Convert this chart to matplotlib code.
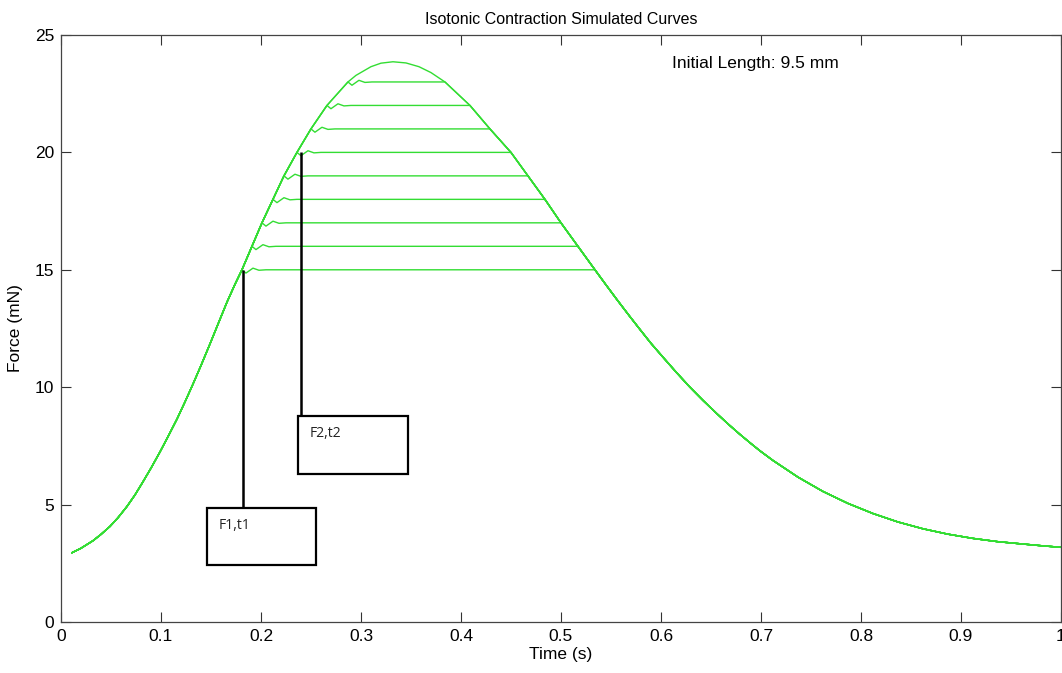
import numpy as np
import matplotlib
matplotlib.use("Agg")
import matplotlib.pyplot as plt
from matplotlib.patches import Rectangle

# Control (twitch) curve
t_main = [0.011, 0.020, 0.032, 0.040, 0.049, 0.057, 0.066, 0.074, 0.082, 0.090,
          0.099, 0.107, 0.116, 0.124, 0.132, 0.140, 0.149, 0.157, 0.166, 0.174,
          0.181, 0.191, 0.201, 0.212, 0.223, 0.236, 0.250, 0.266, 0.287, 0.295,
          0.310, 0.320, 0.332, 0.345, 0.358, 0.370, 0.384, 0.409, 0.429, 0.450,
          0.467, 0.484, 0.500, 0.517, 0.534, 0.545, 0.556, 0.568, 0.579, 0.590,
          0.602, 0.615, 0.629, 0.642, 0.656, 0.668, 0.679, 0.690, 0.699, 0.712,
          0.737, 0.762, 0.787, 0.812, 0.837, 0.862, 0.887, 0.912, 0.937, 0.962,
          0.980, 1.0]
F_main = [2.95, 3.14, 3.46, 3.73, 4.07, 4.44, 4.92, 5.41, 5.97, 6.55,
          7.24, 7.89, 8.64, 9.37, 10.13, 10.92, 11.84, 12.68, 13.62, 14.38,
          15.0, 16.0, 17.0, 18.0, 19.0, 20.0, 21.0, 22.0, 23.0, 23.28,
          23.65, 23.80, 23.86, 23.81, 23.65, 23.40, 23.0, 22.0, 21.0, 20.0,
          19.0, 18.0, 17.0, 16.0, 15.0, 14.36, 13.73, 13.06, 12.46, 11.87,
          11.28, 10.65, 10.00, 9.44, 8.87, 8.40, 7.99, 7.60, 7.29, 6.88,
          6.17, 5.56, 5.05, 4.62, 4.26, 3.97, 3.74, 3.56, 3.42, 3.32,
          3.25, 3.18]

# Isotonic load levels and where the plateau starts / ends
levels = [15, 16, 17, 18, 19, 20, 21, 22, 23]
t_start = [0.181, 0.191, 0.201, 0.212, 0.223, 0.236, 0.250, 0.266, 0.287]
t_end = [0.534, 0.517, 0.500, 0.484, 0.467, 0.450, 0.429, 0.409, 0.384]

# small oscillation at the onset of each plateau
wig_dt = [0.0, 0.004, 0.011, 0.017, 0.024]
wig_dF = [0.0, -0.14, 0.07, -0.02, 0.0]

# annotations
ann_labels = ["F1,t1", "F2,t2"]
ann_t = [0.182, 0.240]
ann_F = [15.0, 20.0]
box_x = [0.146, 0.237]
box_y = [2.43, 6.30]
box_w = [0.109, 0.110]
box_h = [2.43, 2.47]

green = "#33dd33"

fig = plt.figure(figsize=(10.62, 6.73), dpi=100)
ax = fig.add_axes([0.0574, 0.0758, 0.9416, 0.8722])

tm = np.array(t_main)
Fm = np.array(F_main)
ax.plot(tm, Fm, color=green, lw=1.0)

for lev, ts, te in zip(levels, t_start, t_end):
    rise = tm < ts
    fall = tm > te
    tt = list(tm[rise]) + [ts + d for d in wig_dt] + [te] + list(tm[fall])
    ff = list(Fm[rise]) + [lev + d for d in wig_dF] + [lev] + list(Fm[fall])
    ax.plot(tt, ff, color=green, lw=1.0)

for lab, t0, f0, bx, by, bw, bh in zip(ann_labels, ann_t, ann_F, box_x, box_y, box_w, box_h):
    ax.plot([t0, t0], [f0, by + bh], color="black", lw=1.8, solid_capstyle="butt")
    ax.add_patch(Rectangle((bx, by), bw, bh, fill=False, edgecolor="black", lw=1.6))
    ax.text(bx + 0.012, by + bh - 0.42, lab, fontsize=10, family="Open Sans",
            va="top", ha="left", color="#222222")

ax.set_xlim(0, 1)
ax.set_ylim(0, 25)
ax.set_xticks([0, 0.1, 0.2, 0.3, 0.4, 0.5, 0.6, 0.7, 0.8, 0.9, 1])
ax.set_xticklabels(["0", "0.1", "0.2", "0.3", "0.4", "0.5", "0.6", "0.7", "0.8", "0.9", "1"])
ax.set_yticks([0, 5, 10, 15, 20, 25])
ax.tick_params(direction="in", length=7, width=0.8, top=True, right=True,
               labelsize=12.5, colors="#333333", labelcolor="black", pad=5)
for s in ax.spines.values():
    s.set_color("#444444")
    s.set_linewidth(0.9)

fs_family = "Liberation Sans"
for lbl in ax.get_xticklabels() + ax.get_yticklabels():
    lbl.set_family(fs_family)
ax.set_xlabel("Time (s)", fontsize=12.5, family=fs_family, labelpad=2)
ax.set_ylabel("Force (mN)", fontsize=12.5, family=fs_family, labelpad=8)
ax.set_title("Isotonic Contraction Simulated Curves", fontsize=11.5, family=fs_family, pad=8)
ax.text(0.611, 23.77, "Initial Length: 9.5 mm", fontsize=12.5, family=fs_family,
        va="center", ha="left")

fig.savefig("out.png", dpi=100)
